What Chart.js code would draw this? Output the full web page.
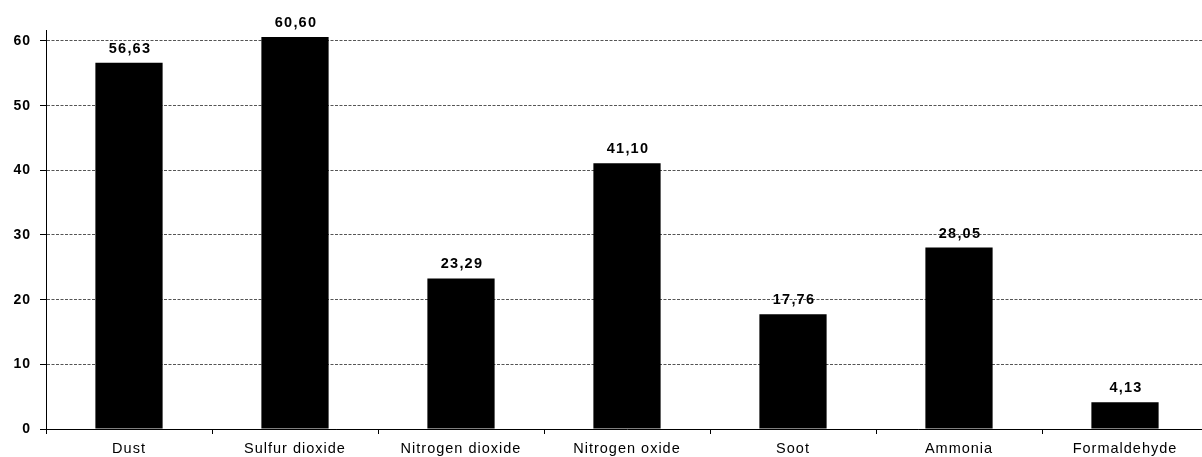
<!DOCTYPE html>
<html>
<head>
<meta charset="utf-8">
<script src="https://cdn.jsdelivr.net/npm/chart.js@4/dist/chart.umd.min.js"></script>
<style>
  html, body { margin: 0; padding: 0; background: #fff; overflow: hidden; }
  #wrap { width: 1208px; height: 457px; }
</style>
</head>
<body>
<div id="wrap"><canvas id="emissions"></canvas></div>
<script>
const categories = ["Dust", "Sulfur dioxide", "Nitrogen dioxide", "Nitrogen oxide", "Soot", "Ammonia", "Formaldehyde"];
const values = [56.63, 60.60, 23.29, 41.10, 17.76, 28.05, 4.13];

const FONT = "'Liberation Sans', Arial, sans-serif";

// wider spacing like the original rendering
const spacing = {
  id: "spacing",
  beforeDraw(chart) {
    chart.ctx.letterSpacing = "1px";
  }
};

// ===== VALUE LABELS ABOVE BARS =====
const valueLabels = {
  id: "valueLabels",
  afterDatasetsDraw(chart) {
    const ctx = chart.ctx;
    const meta = chart.getDatasetMeta(0);
    ctx.save();
    ctx.letterSpacing = "1.2px";
    ctx.font = "bold 14.5px " + FONT;
    ctx.fillStyle = "#000";
    ctx.textAlign = "center";
    ctx.textBaseline = "alphabetic";
    meta.data.forEach((bar, i) => {
      const txt = values[i].toFixed(2).replace(".", ",");
      ctx.fillText(txt, bar.x + 1, bar.y - 10);
    });
    ctx.restore();
  }
};

new Chart(document.getElementById("emissions"), {
  type: "bar",
  data: {
    labels: categories,
    datasets: [{
      data: values,
      backgroundColor: "#000",
      categoryPercentage: 1,
      barPercentage: 0.405
    }]
  },
  options: {
    responsive: true,
    maintainAspectRatio: false,
    animation: false,
    layout: { padding: { top: 30, right: 0, left: 0, bottom: 0 } },
    plugins: { legend: { display: false }, tooltip: { enabled: false } },
    scales: {
      x: {
        grid: { display: true, drawOnChartArea: false, drawTicks: true, tickLength: 5, tickColor: "#000", offset: true },
        border: { display: true, color: "#000", width: 1 },
        ticks: { color: "#000", font: { family: FONT, size: 14.5 }, padding: 6, maxRotation: 0, autoSkip: false },
        afterFit(scale) { scale.height = 28; }
      },
      y: {
        min: 0,
        max: 61.7,
        grid: { color: "#555", tickColor: "#000", tickLength: 6, tickBorderDash: [], lineWidth: 1 },
        border: { display: true, color: "#000", width: 1, dash: [3, 1.5] },
        ticks: {
          stepSize: 10,
          includeBounds: false,
          color: "#000",
          font: { family: FONT, size: 14, weight: "bold" },
          padding: 9
        },
        afterFit(scale) { scale.width = 46; }
      }
    }
  },
  plugins: [spacing, valueLabels]
});
</script>
</body>
</html>
